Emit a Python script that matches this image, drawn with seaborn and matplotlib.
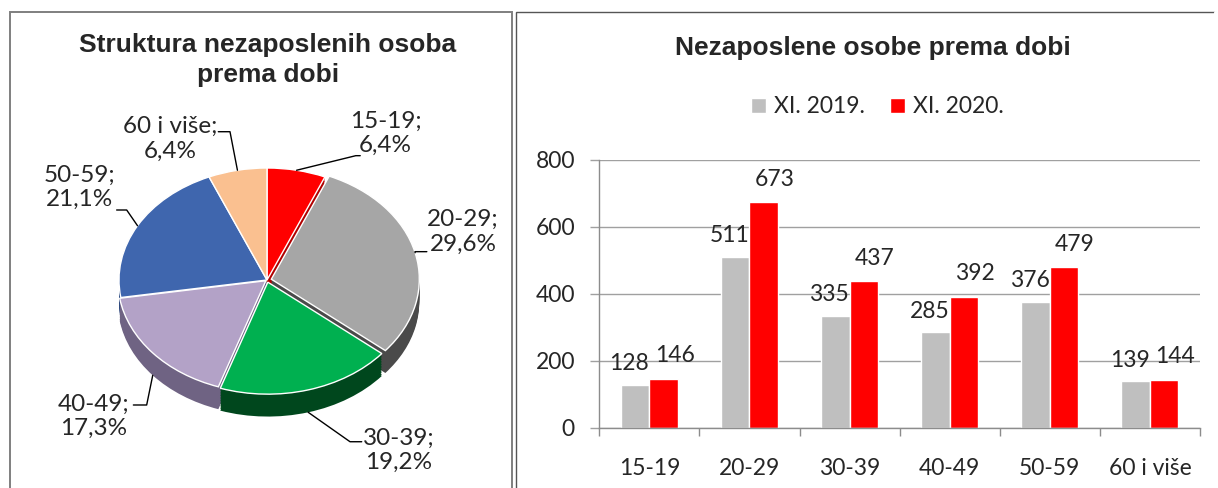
import numpy as np
import pandas as pd
import matplotlib
matplotlib.use("Agg")
import matplotlib.pyplot as plt
from matplotlib.patches import Rectangle
from matplotlib.lines import Line2D
import seaborn as sns

# data
age_groups = ["15-19", "20-29", "30-39", "40-49", "50-59", "60 i više"]
years = ["XI. 2019.", "XI. 2020."]
counts_2019 = [128, 511, 335, 285, 376, 139]
counts_2020 = [146, 673, 437, 392, 479, 144]
pie_shares = [6.4, 29.6, 19.2, 17.3, 21.1, 6.4]

pie_colors = ["#FF0000", "#A6A6A6", "#00B050", "#B3A2C7", "#3F66AE", "#FAC090"]
side_colors = ["#B00000", "#4A4A4A", "#00471D", "#6F6383", "#26467E", "#C8946A"]
bar_colors = {"XI. 2019.": "#BFBFBF", "XI. 2020.": "#FF0000"}

W, H = 1218, 488
FS = 16.5


def px_box(x0, y_top, x1, y_bot):
    """pixel box (top-left origin) -> figure fraction [l, b, w, h]"""
    return [x0 / W, 1 - y_bot / H, (x1 - x0) / W, (y_bot - y_top) / H]


sns.set_theme(style="white")
plt.rcParams["font.family"] = ["Lato", "DejaVu Sans"]

fig = plt.figure(figsize=(W / 100, H / 100), dpi=100)

# panel frames
fig.add_artist(Rectangle((10 / W, -0.1), 502 / W, 1.1 - 12 / H, transform=fig.transFigure,
                         fill=False, ec="#7F7F7F", lw=1.4))
fig.add_artist(Rectangle((516 / W, -0.1), 700 / W, 1.1 - 12 / H, transform=fig.transFigure,
                         fill=False, ec="#555555", lw=1.0))
# hide the right edge of the right frame (runs off the picture)
fig.add_artist(Line2D([1216 / W, 1216 / W], [-0.1, 1 - 13 / H], transform=fig.transFigure,
                      color="white", lw=3))

title_kw = dict(family=["Liberation Sans", "DejaVu Sans"], weight="bold", fontsize=19,
                ha="center", va="center")
fig.text(268 / W, 1 - 45 / H, "Struktura nezaposlenih osoba", **title_kw)
fig.text(268 / W, 1 - 75 / H, "prema dobi", **title_kw)
fig.text(873 / W, 1 - 48 / H, "Nezaposlene osobe prema dobi", **title_kw)

# ---------------- pie (pseudo 3D) ----------------
cx, cy, rx, ry = 267, 280, 148, 112
xl, yl = (-1.3, 1.3), (-1.7, 1.4)
axp = fig.add_axes(px_box(cx + xl[0] * rx, cy - yl[1] * ry, cx + xl[1] * rx, cy - yl[0] * ry))
explode = [0, 0.03, 0.02, 0.01, 0, 0]
depth = 0.2
for d in np.linspace(depth, 0.01, 14):
    axp.pie(pie_shares, colors=side_colors, startangle=90, counterclock=False,
            explode=explode, center=(0, -d), wedgeprops=dict(lw=0))
wedges, _ = axp.pie(pie_shares, colors=pie_colors, startangle=90, counterclock=False,
                    explode=explode, wedgeprops=dict(lw=1, ec="white"))
axp.set_aspect("auto")
axp.set_xlim(*xl)
axp.set_ylim(*yl)
axp.axis("off")

# label block centres and leader elbows (layout, pie axes units)
label_pos = [(0.80, 1.31), (1.324, 0.43), (0.892, -1.52), (-1.169, -1.215), (-1.264, 0.825), (-0.655, 1.26)]
leader_ends = [[(0.60, 1.11), (0.63, 1.11)], [(1.0, 0.253), (1.08, 0.253)],
               [(0.561, -1.444), (0.64, -1.444)], [(-0.813, -1.116), (-0.903, -1.116)],
               [(-0.948, 0.625), (-1.016, 0.625)], [(-0.25, 1.324), (-0.329, 1.324)]]
for w, lab, s, pos, ends, ex in zip(wedges, age_groups, pie_shares, label_pos, leader_ends, explode):
    th = np.deg2rad((w.theta1 + w.theta2) / 2)
    sx, sy = (1 + ex) * np.cos(th), (1 + ex) * np.sin(th)
    if sy < -0.3:
        sy -= depth
    xs = [sx] + [e[0] for e in ends]
    ys = [sy] + [e[1] for e in ends]
    axp.plot(xs, ys, color="black", lw=1)
    axp.text(pos[0], pos[1], f"{lab};\n{s:.1f}%".replace(".", ","), ha="center", va="center",
             fontsize=17.5, linespacing=1.2)

# ---------------- grouped bars ----------------
df = pd.DataFrame({
    "dob": age_groups * 2,
    "godina": [years[0]] * len(age_groups) + [years[1]] * len(age_groups),
    "broj": counts_2019 + counts_2020,
})
axb = fig.add_axes(px_box(599.3, 160, 1200, 427.7))
sns.barplot(data=df, x="dob", y="broj", hue="godina", palette=bar_colors, width=0.57,
            gap=0, ax=axb, saturation=1)
axb.set_ylim(0, 800)
axb.set_xlim(-0.5, 5.5)
axb.set_yticks([0, 200, 400, 600, 800])
axb.yaxis.grid(True, color="#A0A0A0", lw=1)
axb.set_axisbelow(True)
axb.set_xlabel("")
axb.set_ylabel("")
for side in ["top", "right"]:
    axb.spines[side].set_visible(False)
for side in ["left", "bottom"]:
    axb.spines[side].set_color("#8C8C8C")
    axb.spines[side].set_linewidth(1)
axb.tick_params(axis="y", left=True, length=6.5, width=1, color="#A0A0A0", labelsize=FS, pad=11)
axb.tick_params(axis="x", which="major", bottom=False, labelsize=FS, pad=16)
axb.set_xticks(np.arange(-0.5, 6, 1), minor=True)
axb.tick_params(axis="x", which="minor", bottom=True, length=6, width=1, color="#8C8C8C")

for cont, (dx, dy) in zip(axb.containers, [(-6, 21), (11, 23)]):
    for bar in cont:
        h = bar.get_height()
        axb.annotate(f"{int(h)}", (bar.get_x() + bar.get_width() / 2, h), xytext=(dx, dy),
                     textcoords="offset pixels", ha="center", va="center", fontsize=FS)

handles, labels = axb.get_legend_handles_labels()
axb.get_legend().remove()
fig.legend(handles, labels, loc="center", bbox_to_anchor=(877.5 / W, 1 - 106.7 / H), ncol=2,
           frameon=False, fontsize=FS, handlelength=0.65, handleheight=0.65,
           handletextpad=0.35, columnspacing=1.1)

fig.savefig("out.png", dpi=100)
